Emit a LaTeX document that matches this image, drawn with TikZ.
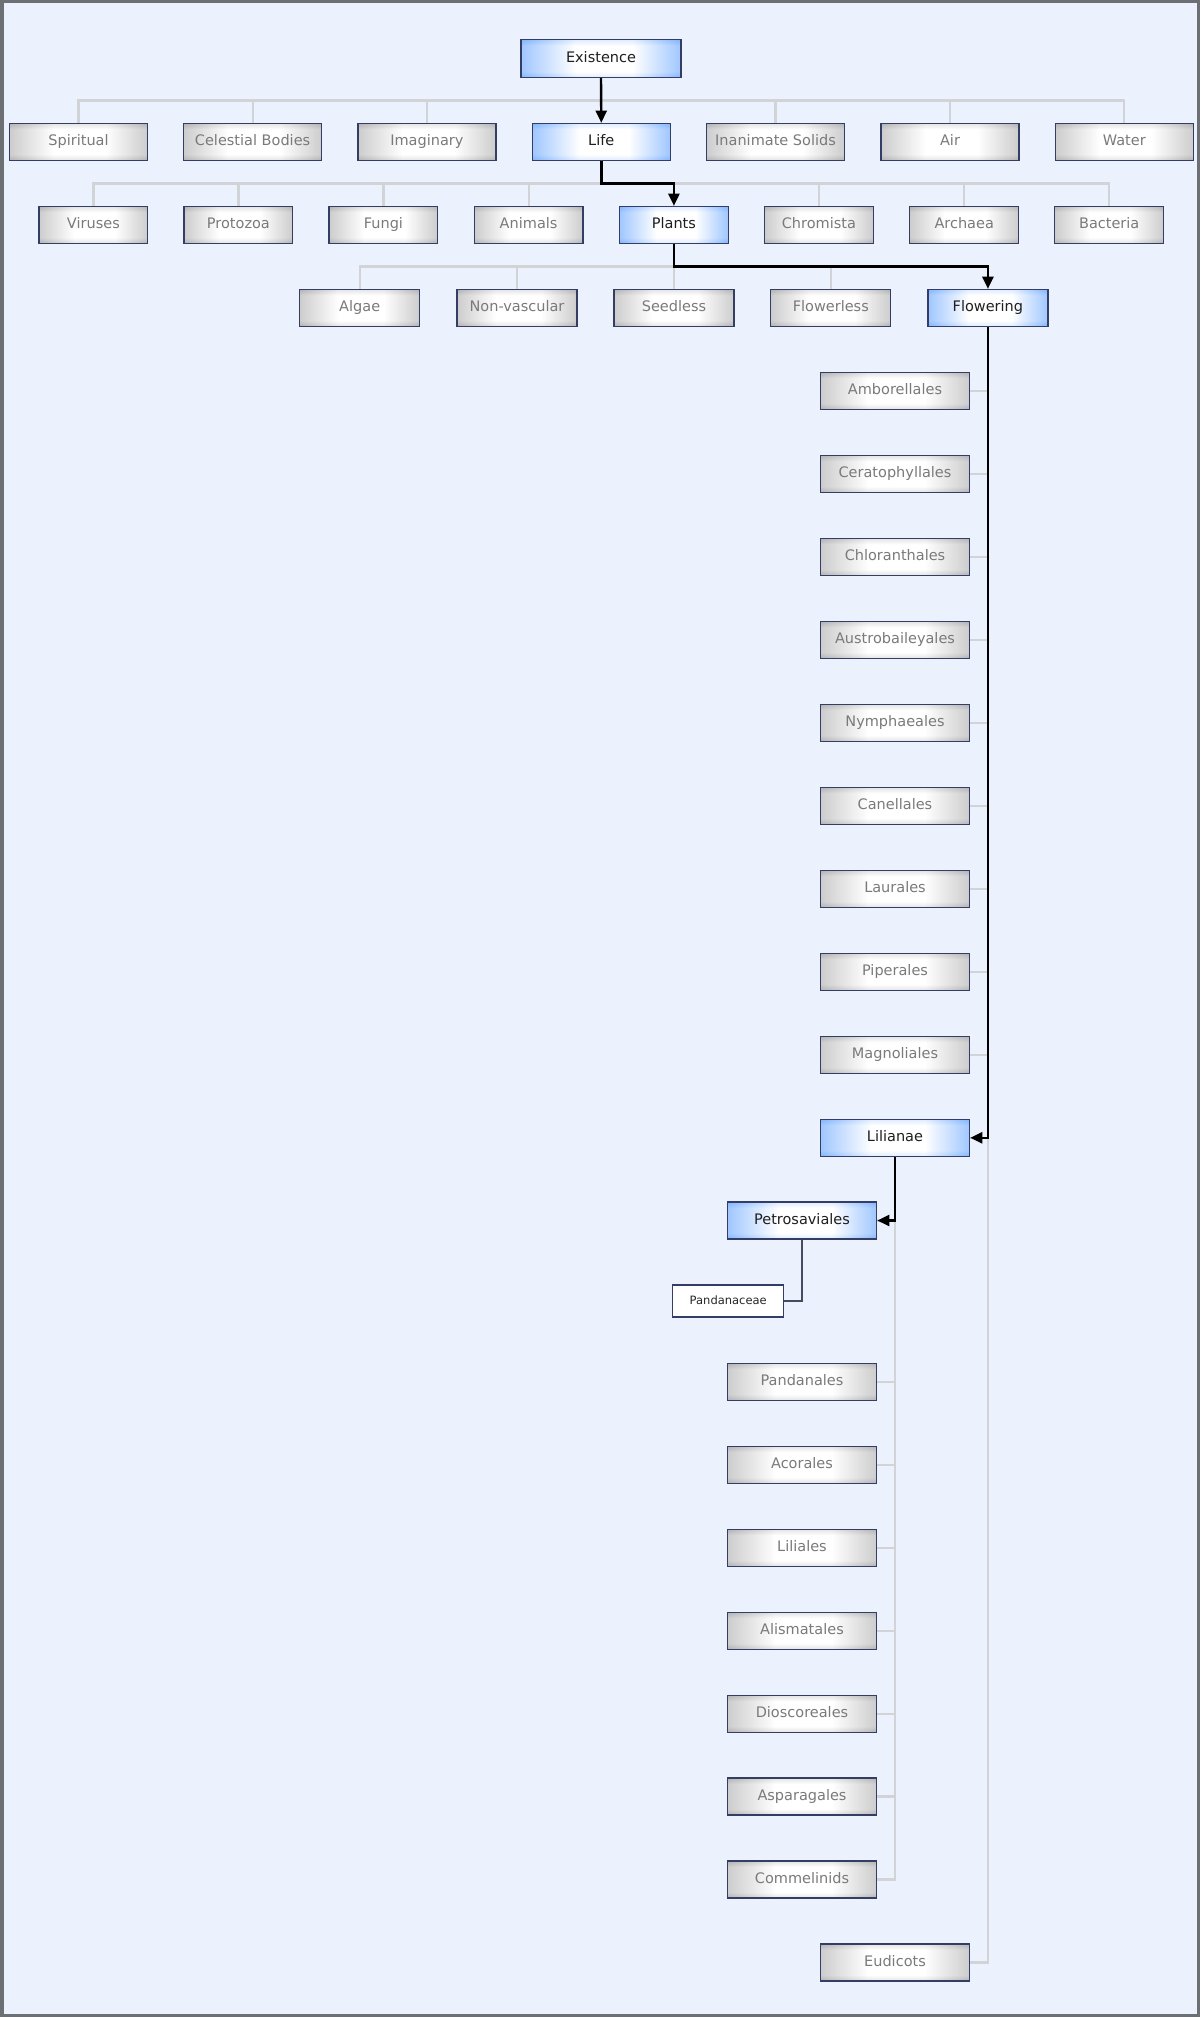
\documentclass[tikz,border=0pt]{standalone}
\usepackage{fontspec}
\setmainfont{DejaVu Sans}
\usetikzlibrary{arrows.meta,calc}
\definecolor{bgcol}{RGB}{235,242,254}
\definecolor{gedge}{RGB}{178,178,180}
\definecolor{bedge}{RGB}{128,180,255}
\definecolor{boxline}{RGB}{52,62,100}
\definecolor{gtext}{RGB}{122,122,124}
\definecolor{glinecol}{RGB}{210,211,214}
\definecolor{framecol}{RGB}{108,111,116}
\definecolor{dlinecol}{RGB}{70,76,96}
\pgfdeclarehorizontalshading{grayshade}{100bp}{color(0bp)=(gedge); color(25bp)=(gedge); color(41bp)=(white); color(60bp)=(white); color(75bp)=(gedge); color(100bp)=(gedge)}
\pgfdeclarehorizontalshading{blueshade}{100bp}{color(0bp)=(bedge); color(25bp)=(bedge); color(42bp)=(white); color(60bp)=(white); color(75bp)=(bedge); color(100bp)=(bedge)}
\pgfdeclareverticalshading{vshadeg}{100bp}{color(0bp)=(gedge); color(25bp)=(gedge); color(33bp)=(white); color(67bp)=(white); color(75bp)=(gedge); color(100bp)=(gedge)}
\pgfdeclareverticalshading{vshadeb}{100bp}{color(0bp)=(bedge); color(25bp)=(bedge); color(33bp)=(white); color(67bp)=(white); color(75bp)=(bedge); color(100bp)=(bedge)}
\tikzset{
  basebox/.style={draw=boxline, line width=1.2pt, inner sep=0pt, text height=11pt, text depth=3pt, font=\fontsize{14.5}{17}\selectfont},
  gbox/.style={basebox, shading=grayshade, text=gtext,
    path picture={\shade[shading=vshadeg, opacity=0.35] (path picture bounding box.south west) rectangle (path picture bounding box.north east);}},
  bbox/.style={basebox, shading=blueshade, text=black!88,
    path picture={\shade[shading=vshadeb, opacity=0.25] (path picture bounding box.south west) rectangle (path picture bounding box.north east);}},
  wbox/.style={draw=boxline, line width=1.2pt, inner sep=0pt, fill=white, text=black!85, text height=9pt, text depth=2.5pt, font=\fontsize{11.5}{14}\selectfont, minimum width=111pt, minimum height=32pt},
  rowA/.style={minimum width=138pt, minimum height=37pt},
  rowB/.style={minimum width=108.7pt, minimum height=37pt},
  rowC/.style={minimum width=120pt, minimum height=37pt},
  listbox/.style={minimum width=149.4pt, minimum height=37pt},
  gconn/.style={draw=glinecol, line width=2.2pt},
  dconn/.style={draw=dlinecol, line width=1.6pt},
  arr/.style={draw=black, line width=2.4pt, -{Triangle[length=12pt,width=11pt]}},
}
\begin{document}
\begin{tikzpicture}[x=1pt,y=-1pt]
\useasboundingbox (0,0) rectangle (1200,2017);
\fill[bgcol] (0,0) rectangle (1200,2017);
\draw[draw=framecol, line width=3.5pt] (1.75,1.75) rectangle (1198.25,2015.25);

% top
\node[bbox, minimum width=160pt, minimum height=38pt] (exist) at (601,58.6) {Existence};

% row 1
\node[gbox,rowA] (spir)  at (78.5,141.8) {Spiritual};
\node[gbox,rowA] (cel)   at (252.6,141.8) {Celestial Bodies};
\node[gbox,rowA] (imag)  at (426.9,141.8) {Imaginary};
\node[bbox,rowA] (life)  at (601.3,141.8) {Life};
\node[gbox,rowA] (inan)  at (775.5,141.8) {Inanimate Solids};
\node[gbox,rowA] (air)   at (950,141.8) {Air};
\node[gbox,rowA] (water) at (1124.3,141.8) {Water};

% row 2
\node[gbox,rowB] (vir)   at (93.4,224.8) {Viruses};
\node[gbox,rowB] (prot)  at (238.4,224.8) {Protozoa};
\node[gbox,rowB] (fung)  at (383.4,224.8) {Fungi};
\node[gbox,rowB] (anim)  at (528.6,224.8) {Animals};
\node[bbox,rowB] (plants) at (673.9,224.8) {Plants};
\node[gbox,rowB] (chrom) at (818.9,224.8) {Chromista};
\node[gbox,rowB] (arch)  at (964.2,224.8) {Archaea};
\node[gbox,rowB] (bact)  at (1109.2,224.8) {Bacteria};

% row 3
\node[gbox,rowC] (alg)   at (359.7,307.8) {Algae};
\node[gbox,rowC] (nonv)  at (517,307.8) {Non-vascular};
\node[gbox,rowC] (seedl) at (674,307.8) {Seedless};
\node[gbox,rowC] (flowl) at (830.8,307.8) {Flowerless};
\node[bbox,rowC] (flow)  at (987.9,307.8) {Flowering};

% flowering list
\node[gbox,listbox] (ambo) at (895,390.8) {Amborellales};
\node[gbox,listbox] (cera) at (895,473.8) {Ceratophyllales};
\node[gbox,listbox] (chlo) at (895,556.8) {Chloranthales};
\node[gbox,listbox] (aust) at (895,639.8) {Austrobaileyales};
\node[gbox,listbox] (nymp) at (895,722.8) {Nymphaeales};
\node[gbox,listbox] (cane) at (895,805.8) {Canellales};
\node[gbox,listbox] (laur) at (895,888.8) {Laurales};
\node[gbox,listbox] (pipe) at (895,971.8) {Piperales};
\node[gbox,listbox] (magn) at (895,1054.8) {Magnoliales};
\node[bbox,listbox] (lili) at (895,1137.8) {Lilianae};
\node[gbox,listbox] (eudi) at (895,1962.5) {Eudicots};

% lilianae list
\node[bbox,listbox] (petro) at (802,1220.5) {Petrosaviales};
\node[wbox] (pandc) at (728.2,1301) {Pandanaceae};
\node[gbox,listbox] (pand) at (802,1381.7) {Pandanales};
\node[gbox,listbox] (acor) at (802,1464.7) {Acorales};
\node[gbox,listbox] (lilia) at (802,1547.7) {Liliales};
\node[gbox,listbox] (alis) at (802,1630.7) {Alismatales};
\node[gbox,listbox] (dios) at (802,1713.7) {Dioscoreales};
\node[gbox,listbox] (aspa) at (802,1796.5) {Asparagales};
\node[gbox,listbox] (comm) at (802,1879.5) {Commelinids};

% bar coordinates
\coordinate (b1) at (601,100.5);
\coordinate (b2) at (601.3,183.5);
\coordinate (b3) at (673.9,266.5);

% gray connectors
\foreach \c in {spir,cel,imag,life,inan,air,water}
  \draw[gconn] (exist.south) -- (b1) -| (\c.north);
\foreach \c in {vir,prot,fung,anim,plants,chrom,arch,bact}
  \draw[gconn] (life.south) -- (b2) -| (\c.north);
\foreach \c in {alg,nonv,seedl,flowl,flow}
  \draw[gconn] (plants.south) -- (b3) -| (\c.north);
\foreach \c in {ambo,cera,chlo,aust,nymp,cane,laur,pipe,magn,lili,eudi}
  \draw[gconn] (flow.south) |- (\c.east);
\foreach \c in {petro,pand,acor,lilia,alis,dios,aspa,comm}
  \draw[gconn] (lili.south) |- (\c.east);

\draw[dconn] (petro.south) |- (pandc.east);

% black path
\draw[arr] (exist.south) -- (life.north);
\draw[arr] (life.south) -- (b2) -| (plants.north);
\draw[arr] (plants.south) -- (b3) -| (flow.north);
\draw[arr] (flow.south) |- (lili.east);
\draw[arr] (lili.south) |- (petro.east);
\end{tikzpicture}
\end{document}
